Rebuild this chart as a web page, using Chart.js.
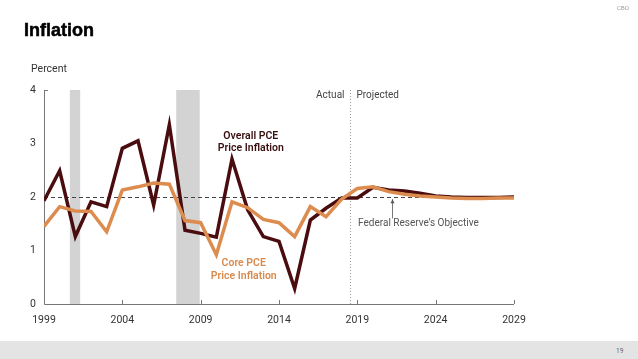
<!DOCTYPE html>
<html><head><meta charset="utf-8">
<script src="https://cdn.jsdelivr.net/npm/chart.js@4/dist/chart.umd.min.js"></script>
<style>
html,body{margin:0;padding:0;background:#fff;width:638px;height:359px;overflow:hidden;font-family:'Liberation Sans Narrow','Roboto',sans-serif;}
#wrap{position:relative;width:638px;height:359px;}
#c{position:absolute;left:0;top:0;}
.t{position:absolute;white-space:nowrap;}
#title{left:24px;top:20px;font-family:'Liberation Sans','Arial',sans-serif;font-weight:900;font-size:18px;color:#000;-webkit-text-stroke:0.5px #000;}
#pct{left:31px;top:62px;font-size:10.5px;color:#333;}
#cbo{left:617px;top:4px;font-size:6px;color:#999;}
#band{position:absolute;left:0;top:341px;width:638px;height:18px;background:#e4e4e4;}
#pg{left:616px;top:347px;font-size:6.5px;color:#666;}
</style></head>
<body><div id="wrap">
<canvas id="c" width="638" height="359"></canvas>
<div class="t" id="title">Inflation</div>
<div class="t" id="pct">Percent</div>
<div class="t" id="cbo">CBO</div>
<div id="band"></div>
<div class="t" id="pg">19</div>
</div>
<script>
const years = [1999,2000,2001,2002,2003,2004,2005,2006,2007,2008,2009,2010,2011,2012,2013,2014,2015,2016,2017,2018,2019,2020,2021,2022,2023,2024,2025,2026,2027,2028,2029];
const overallPCE = [1.93,2.49,1.26,1.91,1.82,2.91,3.05,1.85,3.35,1.38,1.32,1.25,2.71,1.76,1.26,1.17,0.29,1.57,1.79,1.98,1.98,2.18,2.13,2.11,2.07,2.02,2.00,1.99,1.99,1.99,2.00];
const corePCE = [1.45,1.82,1.74,1.73,1.35,2.13,2.19,2.26,2.24,1.56,1.52,0.92,1.91,1.80,1.58,1.52,1.26,1.82,1.63,1.96,2.16,2.19,2.10,2.05,2.02,2.00,1.98,1.97,1.97,1.98,1.98];
const recessions = [[2000.65,2001.31],[2007.44,2008.94]];
const xTicks = [1999,2004,2009,2014,2019,2024,2029];
const yTicks = [0,1,2,3,4];
const fedObjective = 2;
const projectionStart = 2018.55;

const FONT = "'Liberation Sans Narrow','Roboto',sans-serif";
const toXY = a => years.map((y,i)=>({x:y,y:a[i]}));

const decor = {
  id:'decor',
  beforeDatasetsDraw(chart){
    const {ctx, chartArea:ca, scales:{x,y}} = chart;
    ctx.save();
    ctx.fillStyle = '#d3d3d3';
    recessions.forEach(([a,b])=>{
      ctx.fillRect(x.getPixelForValue(a), ca.top, x.getPixelForValue(b)-x.getPixelForValue(a), ca.bottom-ca.top);
    });
    ctx.strokeStyle = '#444'; ctx.lineWidth = 1; ctx.setLineDash([4,3]);
    const y2 = Math.round(y.getPixelForValue(fedObjective))+0.5;
    ctx.beginPath(); ctx.moveTo(ca.left,y2); ctx.lineTo(ca.right,y2); ctx.stroke();
    ctx.strokeStyle = '#999'; ctx.setLineDash([1,2]);
    const px = Math.round(x.getPixelForValue(projectionStart))+0.5;
    ctx.beginPath(); ctx.moveTo(px,ca.top); ctx.lineTo(px,ca.bottom); ctx.stroke();
    ctx.setLineDash([]);
    ctx.strokeStyle = '#777'; ctx.lineWidth = 1;
    ctx.beginPath();
    ctx.moveTo(ca.left+0.5, ca.top); ctx.lineTo(ca.left+0.5, ca.bottom+0.5); ctx.lineTo(ca.right, ca.bottom+0.5);
    ctx.moveTo(ca.left+0.5, ca.top+0.5); ctx.lineTo(ca.left+4, ca.top+0.5);
    xTicks.forEach(t=>{const tx=Math.round(x.getPixelForValue(t))+0.5; ctx.moveTo(tx,ca.bottom); ctx.lineTo(tx,ca.bottom-4);});
    ctx.stroke();
    ctx.font = '10px '+FONT; ctx.fillStyle = '#444'; ctx.textBaseline = 'middle';
    ctx.textAlign = 'right'; ctx.fillText('Actual', px-6, ca.top+5);
    ctx.textAlign = 'left'; ctx.fillText('Projected', px+6, ca.top+5);
    ctx.restore();
  },
  afterDatasetsDraw(chart){
    const {ctx, scales:{x,y}} = chart;
    ctx.save();
    ctx.textAlign='center'; ctx.textBaseline='middle';
    ctx.font = '600 10.5px '+FONT; ctx.fillStyle = '#3a0f10';
    const ox = x.getPixelForValue(2012.2);
    ctx.fillText('Overall PCE', ox, y.getPixelForValue(3.13));
    ctx.fillText('Price Inflation', ox, y.getPixelForValue(2.91));
    ctx.fillStyle = '#d98a4e';
    const cx = x.getPixelForValue(2011.75);
    ctx.fillText('Core PCE', cx, y.getPixelForValue(0.76));
    ctx.fillText('Price Inflation', cx, y.getPixelForValue(0.51));
    ctx.font = '10px '+FONT; ctx.fillStyle = '#555';
    ctx.fillText("Federal Reserve\u2019s Objective", x.getPixelForValue(2022.9), y.getPixelForValue(1.5));
    const ax = Math.round(x.getPixelForValue(2021.2))+0.5;
    const a0 = y.getPixelForValue(1.6), a1 = y.getPixelForValue(1.96);
    ctx.strokeStyle='#555'; ctx.lineWidth=0.8;
    ctx.beginPath(); ctx.moveTo(ax,a0); ctx.lineTo(ax,a1); ctx.stroke();
    ctx.beginPath(); ctx.moveTo(ax,a1); ctx.lineTo(ax-2,a1+4); ctx.lineTo(ax+2,a1+4); ctx.closePath(); ctx.fillStyle='#555'; ctx.fill();
    ctx.restore();
  }
};

new Chart(document.getElementById('c'),{
  type:'line',
  data:{datasets:[
    {label:'Core PCE Price Inflation', data:toXY(corePCE), borderColor:'#dd8c4f', borderWidth:3.5, pointRadius:0, tension:0, order:0, borderJoinStyle:'miter'},
    {label:'Overall PCE Price Inflation', data:toXY(overallPCE), borderColor:'#4a0c0e', borderWidth:3.5, pointRadius:0, tension:0, order:1, borderJoinStyle:'miter'}
  ]},
  options:{
    responsive:false, animation:false, devicePixelRatio:1,
    layout:{padding:{top:90,left:0,right:124,bottom:0}},
    plugins:{legend:{display:false},tooltip:{enabled:false}},
    scales:{
      x:{type:'linear', min:1999, max:2029,
        afterBuildTicks:s=>{s.ticks = xTicks.map(v=>({value:v}));},
        afterFit:s=>{s.height=55;},
        grid:{display:false}, border:{display:false},
        ticks:{color:'#333', font:{size:10.5,family:FONT}, padding:2, maxRotation:0, callback:v=>String(v)}},
      y:{min:0,max:4,
        afterBuildTicks:s=>{s.ticks = yTicks.map(v=>({value:v}));},
        afterFit:s=>{s.width=44;},
        grid:{display:false}, border:{display:false},
        ticks:{color:'#333', font:{size:10.5,family:FONT}, padding:0}}
    }
  },
  plugins:[decor]
});
</script>
</body></html>
